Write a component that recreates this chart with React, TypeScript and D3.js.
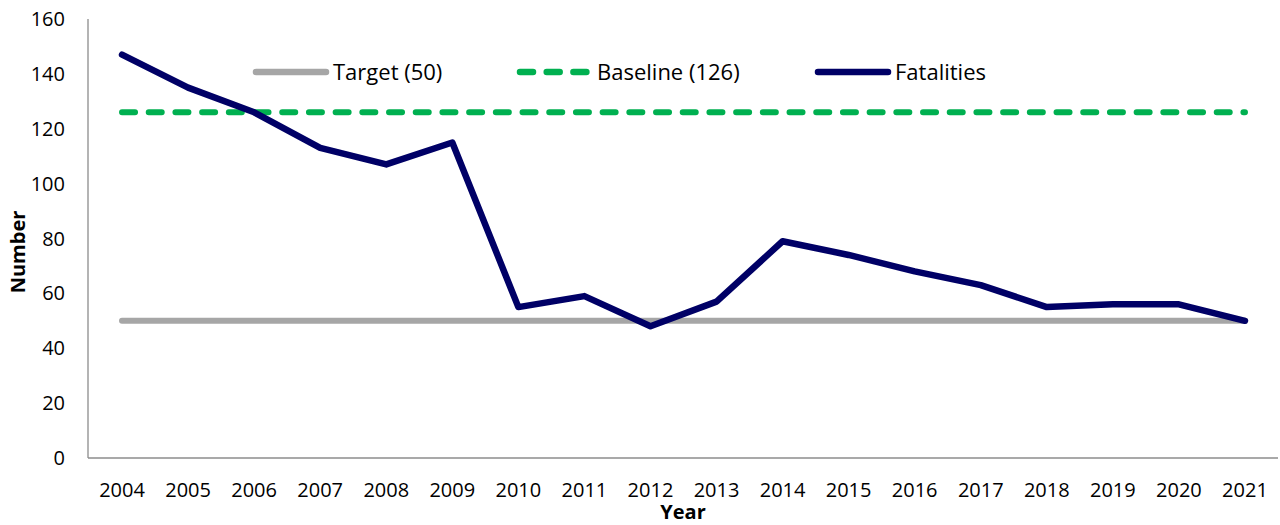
import React from "react";
import * as d3 from "d3";

const years = ["2004","2005","2006","2007","2008","2009","2010","2011","2012","2013","2014","2015","2016","2017","2018","2019","2020","2021"];
const fatalities = [147,135,126,113,107,115,55,59,48,57,79,74,68,63,55,56,56,50];
const targetValue = 50;
const baselineValue = 126;
const yTicks = [0,20,40,60,80,100,120,140,160];
const legendItems = [
  { label: "Target (50)", key: "target" },
  { label: "Baseline (126)", key: "baseline" },
  { label: "Fatalities", key: "fatalities" },
];

const W = 1280, H = 525;
const left = 88, right = 1278, top = 19, bottom = 458;
const FONT = "'Open Sans', 'Liberation Sans', sans-serif";

const colors: Record<string, string> = { target: "#a6a6a6", baseline: "#00b050", fatalities: "#000066" };

export default function App() {
  const x = d3.scaleBand<string>().domain(years).range([left + 1, right]).padding(0);
  const cx = (d: string) => (x(d) as number) + x.bandwidth() / 2;
  const y = d3.scaleLinear().domain([0, 160]).range([bottom, top]);

  const line = d3.line<number>().x((_, i) => cx(years[i])).y((v) => y(v));
  const targetPath = line(years.map(() => targetValue)) as string;
  const basePath = line(years.map(() => baselineValue)) as string;
  const fatPath = line(fatalities) as string;

  const legendX = [256, 520, 818];

  return (
    <svg width={W} height={H} style={{ position: "absolute", left: 0, top: 0 }}>
      <rect width={W} height={H} fill="#fff" />
      <line x1={left} x2={left} y1={top} y2={bottom} stroke="#8c8c8c" strokeWidth={1.3} />
      <line x1={left} x2={right} y1={bottom} y2={bottom} stroke="#8c8c8c" strokeWidth={1.3} />
      {yTicks.map((t) => (
        <text key={t} x={65} y={y(t)} dy="0.35em" textAnchor="end" fontFamily={FONT} fontSize={20} fill="#000">{t}</text>
      ))}
      {years.map((yr) => (
        <text key={yr} x={cx(yr)} y={490} dy="0.35em" textAnchor="middle" fontFamily={FONT} fontSize={20} fill="#000">{yr}</text>
      ))}
      <path d={targetPath} fill="none" stroke={colors.target} strokeWidth={6} strokeLinecap="round" />
      <path d={basePath} fill="none" stroke={colors.baseline} strokeWidth={6} strokeLinecap="round" strokeDasharray="13 13.7" />
      <path d={fatPath} fill="none" stroke={colors.fatalities} strokeWidth={6.5} strokeLinecap="round" strokeLinejoin="round" />
      {legendItems.map((it, i) => (
        <g key={it.key}>
          <line x1={legendX[i]} x2={legendX[i] + 70} y1={72} y2={72} stroke={colors[it.key]} strokeWidth={6.5} strokeLinecap="round"
            strokeDasharray={it.key === "baseline" ? "13 13.7" : undefined} />
          <text x={legendX[i] + 77} y={72} dy="0.35em" fontFamily={FONT} fontSize={22} fill="#000">{it.label}</text>
        </g>
      ))}
      <text transform={`translate(18,252) rotate(-90)`} textAnchor="middle" dy="0.35em" fontFamily={FONT} fontSize={20} fontWeight="bold" fill="#000">Number</text>
      <text x={683} y={512} textAnchor="middle" dy="0.35em" fontFamily={FONT} fontSize={20} fontWeight="bold" fill="#000">Year</text>
    </svg>
  );
}
